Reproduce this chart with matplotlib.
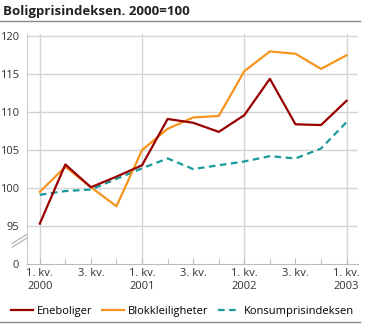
import matplotlib.pyplot as plt
from matplotlib.lines import Line2D

plt.rcParams['font.family'] = ['Open Sans', 'DejaVu Sans']

# quarters 2000 Q1 .. 2003 Q1
quarters = list(range(13))
eneboliger = [95.3, 103.1, 100.1, 101.5, 103.0, 109.1, 108.6, 107.4, 109.6, 114.4, 108.4, 108.3, 111.5]
blokk = [99.5, 102.8, 100.1, 97.6, 105.0, 107.8, 109.3, 109.5, 115.4, 118.0, 117.7, 115.7, 117.5]
kpi = [99.1, 99.6, 99.8, 101.2, 102.6, 103.9, 102.5, 103.0, 103.5, 104.2, 103.9, 105.2, 108.7]

xtick_pos = [0, 2, 4, 6, 8, 10, 12]
xtick_labels = ['1. kv.\n2000', '3. kv.', '1. kv.\n2001', '3. kv.', '1. kv.\n2002', '3. kv.', '1. kv.\n2003']
ytick_pos = [90, 95, 100, 105, 110, 115, 120]
ytick_labels = ['0', '95', '100', '105', '110', '115', '120']

fig = plt.figure(figsize=(3.65, 3.27), dpi=100)
ax = fig.add_axes([0.074, 0.193, 0.907, 0.703])

grid_c = '#d4d4d4'
for y in ytick_pos[1:]:
    ax.axhline(y, color=grid_c, lw=1, zorder=0)
for x in [0, 4, 8, 12]:
    ax.axvline(x, color=grid_c, lw=1, zorder=0)

ax.plot(quarters, kpi, color='#1a9a9a', lw=1.6, ls=(0, (3, 2)), label='Konsumprisindeksen', zorder=3)
ax.plot(quarters, blokk, color='#f7941d', lw=1.6, label='Blokkleiligheter', zorder=3)
ax.plot(quarters, eneboliger, color='#990000', lw=1.6, label='Eneboliger', zorder=4)

ax.set_xlim(-0.5, 12.45)
ax.set_ylim(90, 120.3)
ax.set_xticks(xtick_pos)
ax.set_xticklabels(xtick_labels, fontsize=8, color='#333333', ha='center')
ax.set_xticks(quarters, minor=True)
ax.set_yticks(ytick_pos)
ax.set_yticklabels(ytick_labels, fontsize=8, color='#333333')
ax.tick_params(axis='x', which='both', direction='in', length=4, color='#bbbbbb', pad=3)
ax.tick_params(axis='y', length=0, pad=6)

for s in ['top', 'right']:
    ax.spines[s].set_visible(False)
ax.spines['left'].set_color('#cccccc')
ax.spines['bottom'].set_color('#bbbbbb')

# axis break marks
for dy in (0, 0.5):
    ax.plot([-0.045, 0.0], [92.2 + dy, 93.4 + dy], transform=ax.get_yaxis_transform(),
            color='#bbbbbb', lw=1, clip_on=False, zorder=5)

h, l = ax.get_legend_handles_labels()
order = [2, 1, 0]
fig.legend([h[i] for i in order], [l[i] for i in order], loc='lower center',
           bbox_to_anchor=(0.5, 0.0), ncol=3, frameon=False, fontsize=8,
           handlelength=2.0, handletextpad=0.4, columnspacing=0.8)

fig.text(0.008, 0.955, 'Boligprisindeksen. 2000=100', fontsize=9.5, fontweight='bold', color='#222222')
fig.add_artist(Line2D([0, 0.985], [0.935, 0.935], color='#888888', lw=1))
fig.add_artist(Line2D([0, 0.985], [0.015, 0.015], color='#888888', lw=1))

fig.savefig('out.png', dpi=100)
